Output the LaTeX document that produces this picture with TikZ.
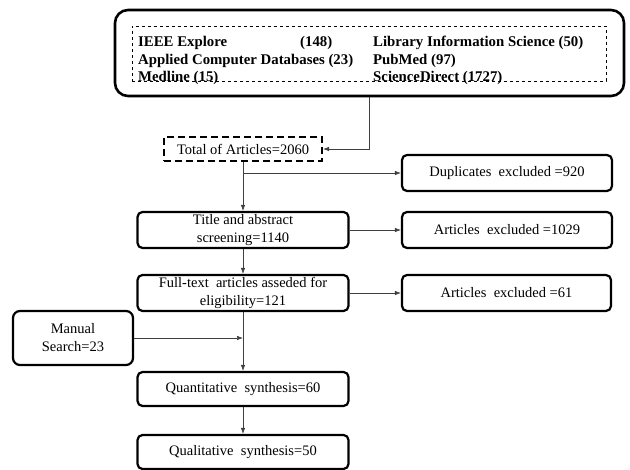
\documentclass[tikz,border=0pt]{standalone}
\usepackage{fontspec}
\setmainfont{Liberation Serif}
\usetikzlibrary{arrows.meta}

\begin{document}
\begin{tikzpicture}[x=1pt, y=-1pt,
    stage/.style={draw, line width=2.2pt, rounded corners=5pt, minimum width=211pt, minimum height=36pt, inner sep=1pt, align=center, font=\fontsize{14.5}{18}\selectfont},
    dbitem/.style={anchor=west, inner sep=0pt, font=\bfseries\fontsize{14.8}{15}\selectfont},
    link/.style={line width=0.6pt, black!75, -{Latex[length=6pt,width=4.5pt]}}]

        \useasboundingbox (0,0) rectangle (630,470);

        % Databases searched
        \node[draw, line width=2.6pt, rounded corners=13pt, minimum width=509pt, minimum height=86pt] (db) at (369.5,53) {};
        \node[draw, dashed, line width=0.6pt, minimum width=474pt, minimum height=55pt] (dblist) at (369,53.5) {};

        \node[dbitem] (ieee) at (138,43) {IEEE Explore};
        \node[dbitem] (ieeen) at (300,43) {(148)};
        \node[dbitem] (acd) at (138,61) {Applied Computer Databases (23)};
        \node[dbitem] (medline) at (138,78) {Medline (15)};
        \node[dbitem] (lis) at (373,43) {Library Information Science (50)};
        \node[dbitem] (pubmed) at (373,61) {PubMed (97)};
        \node[dbitem] (sd) at (373,78) {ScienceDirect (1727)};

        % Main flow
        \node[stage, dash pattern=on 7pt off 4pt, rounded corners=0pt, minimum width=158pt, minimum height=24pt] (total) at (243,149) {Total of Articles=2060};

        \node[stage] (title) at (243,230) {Title and abstract\\screening=1140};
        \node[stage] (full) at (243,293) {Full-text~ articles asseded for\\eligibility=121};
        \node[stage, minimum height=34pt] (quant) at (243,389) {Quantitative~ synthesis=60};
        \node[stage, minimum height=34pt] (qual) at (243,452) {Qualitative~ synthesis=50};

        % Excluded records
        \node[stage, minimum width=210pt] (dup) at (507,173) {Duplicates~ excluded =920};
        \node[stage, minimum width=210pt] (exc1) at (507,230) {Articles~ excluded =1029};
        \node[stage, minimum width=209pt] (exc2) at (506.5,293) {Articles~ excluded =61};

        % Extra source
        \node[stage, minimum width=120pt, minimum height=54pt, rounded corners=7pt] (manual) at (73,338) {Manual\\Search=23};

        \coordinate (dupj) at (total.south |- dup.west);
        \coordinate (manj) at (full.south |- manual.east);

        % Connectors
        \draw[link] (db.south) |- (total.east);
        \draw[link] (total.south) -- (title.north);
        \draw[link] (dupj) -- (dup.west);
        \draw[link] (title.east) -- (exc1.west);
        \draw[link] (title.south) -- (full.north);
        \draw[link] (full.east) -- (exc2.west);
        \draw[link] (full.south) -- (quant.north);
        \draw[link] (manual.east) -- (manj);
        \draw[link] (quant.south) -- (qual.north);

\end{tikzpicture}
\end{document}
